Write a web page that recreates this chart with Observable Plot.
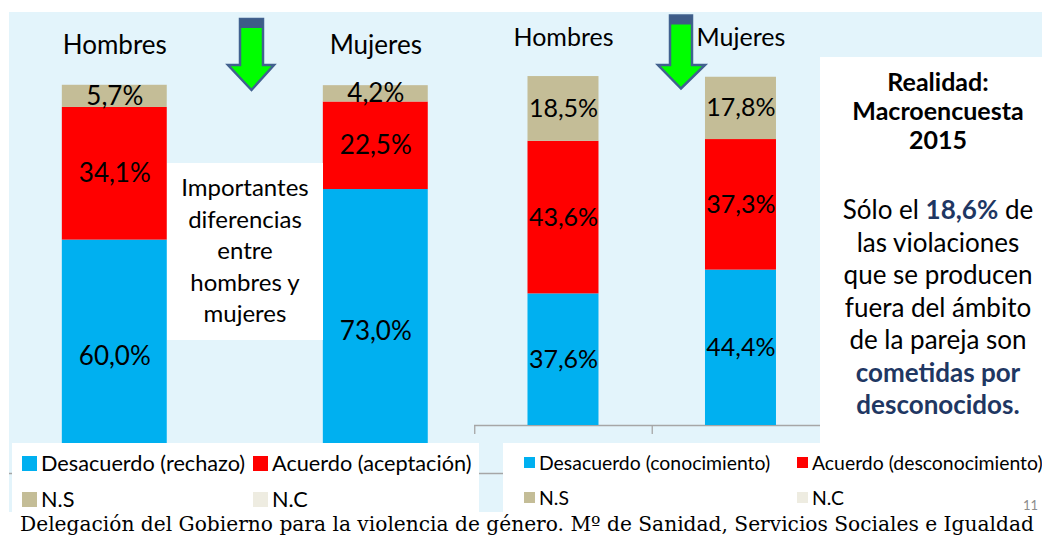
<!DOCTYPE html>
<html><head><meta charset="utf-8">
<script src="https://cdn.jsdelivr.net/npm/d3@7"></script>
<script src="https://cdn.jsdelivr.net/npm/@observablehq/plot@0.6"></script>
<style>
body{margin:0;background:#fff;}
#wrap{position:relative;width:1042px;height:537px;overflow:hidden;background:#fff;font-family:Lato,"Open Sans",sans-serif;color:#000;}
.abs{position:absolute;}
.box{position:absolute;background:#fff;}
.leg{position:absolute;display:flex;align-items:center;white-space:nowrap;}
.sw{display:inline-block;flex:none;}
</style></head><body><div id="wrap"></div>
<script>
// ---- data ----
const groups = ["Hombres", "Mujeres"];
const seriesLeft = ["Desacuerdo (rechazo)", "Acuerdo (aceptación)", "N.S", "N.C"];
const seriesRight = ["Desacuerdo (conocimiento)", "Acuerdo (desconocimiento)", "N.S", "N.C"];
const seriesColors = ["#00b0f0", "#ff0000", "#c4bd97", "#eeece1"];
const leftDesacuerdo = [60.0, 73.0];
const leftAcuerdo = [34.1, 22.5];
const leftNS = [5.7, 4.2];
const rightDesacuerdo = [37.6, 44.4];
const rightAcuerdo = [43.6, 37.3];
const rightNS = [18.5, 17.8];
const middleNote = ["Importantes", "diferencias", "entre", "hombres y", "mujeres"];
const captionText = "Delegación del Gobierno para la violencia de género. Mº de Sanidad, Servicios Sociales e Igualdad";

function rowsOf(series, cols) {
  const rows = [];
  groups.forEach((g, i) => cols.forEach((c, j) => rows.push({group: g, series: series[j], value: c[i]})));
  return rows;
}
const leftRows = rowsOf(seriesLeft, [leftDesacuerdo, leftAcuerdo, leftNS]);
const rightRows = rowsOf(seriesRight, [rightDesacuerdo, rightAcuerdo, rightNS]);
const fmt = v => v.toFixed(1).replace(".", ",") + "%";

const wrap = document.getElementById("wrap");
function add(html) { wrap.insertAdjacentHTML("beforeend", html); }

// background panel
add(`<div class="abs" style="left:9px;top:12px;width:1033px;height:500px;background:#e3f4fb"></div>`);

function chart(o) {
  const svg = Plot.plot({
    width: o.width, height: o.height,
    marginTop: o.mt, marginBottom: o.mb, marginLeft: 0, marginRight: 0,
    style: {background: "transparent", fontFamily: "Lato, sans-serif", overflow: "visible"},
    x: {domain: groups, paddingInner: o.pi, paddingOuter: o.po, align: o.align, round: false, axis: null},
    y: {domain: [0, 100], axis: null},
    color: {domain: o.series, range: seriesColors},
    marks: [
      Plot.ruleY([0], {stroke: "#a6a6a6", strokeWidth: 1.3}),
      Plot.ruleX(groups, {x: d => d, dx: o.tickDx, y1: 0, y2: -2.6, stroke: "#a6a6a6", strokeWidth: 1.3}),
      Plot.barY(o.rows, {x: "group", y: "value", fill: "series"}),
      Plot.text(o.rows, Plot.stackY({x: "group", y: "value", z: "series", text: d => fmt(d.value), fontSize: o.fs, fill: "#000"})),
      Plot.text(groups, {x: d => d, frameAnchor: "top", lineAnchor: "middle", dy: o.labelDy, fontSize: o.lfs, fill: "#000"})
    ]
  });
  svg.style.position = "absolute";
  svg.style.left = o.left + "px";
  svg.style.top = "0px";
  wrap.appendChild(svg);
}

chart({rows: leftRows, series: seriesLeft, left: 9, width: 498, height: 490, mt: 84, mb: 17,
  pi: 0.598, po: 0.253, align: 0.4, tickDx: 130.5, labelDy: -39, fs: 26, lfs: 26});
chart({rows: rightRows, series: seriesRight, left: 474, width: 347, height: 440, mt: 75, mb: 15,
  pi: 0.6, po: 0.2775, align: 0.543, tickDx: -88.75, labelDy: -38, fs: 25, lfs: 25});

// middle note box
add(`<div class="box" style="left:167px;top:163px;width:156px;height:177px;"></div>`);
add(`<div class="abs" style="left:167px;top:171px;width:156px;text-align:center;font-size:24px;line-height:31.5px;">${middleNote.join("<br>")}</div>`);

// right text box
add(`<div class="box" style="left:820px;top:57px;width:222px;height:386px;"></div>`);
add(`<div class="abs" style="left:829px;top:67px;width:218px;text-align:center;">
<div style="font-weight:bold;font-size:25px;line-height:29px;">Realidad:<br>Macroencuesta<br>2015</div>
<div style="margin-top:39px;font-size:26px;line-height:32.5px;">Sólo el <b style="color:#1f3763">18,6%</b> de<br>las violaciones<br>que se producen<br>fuera del ámbito<br>de la pareja son<br><b style="color:#1f3763">cometidas por<br>desconocidos.</b></div>
</div>`);

// legends
add(`<div class="box" style="left:12px;top:443px;width:467px;height:69px;"></div>`);
add(`<div class="box" style="left:503px;top:443px;width:539px;height:69px;"></div>`);
function legend(series, xs, ys, sw, fs, gap) {
  series.forEach((s, i) => {
    const x = xs[i % 2], y = ys[Math.floor(i / 2)];
    add(`<div class="leg" style="left:${x}px;top:${y - 15}px;height:30px;font-size:${fs}px;"><span class="sw" style="width:${sw}px;height:${sw}px;background:${seriesColors[i]};margin-right:${gap}px"></span>${s}</div>`);
  });
}
legend(seriesLeft, [22, 253], [463, 499], 15, 21.7, 4);
legend(seriesRight, [524, 797], [462, 497], 11, 19.4, 4);

// arrows
add(`<svg class="abs" style="left:0;top:0" width="1042" height="537">
<polygon points="240,19 263,19 263,65 274,65 251.5,90 228,65 240,65" fill="#00ff00" stroke="#41618f" stroke-width="2.5" stroke-linejoin="miter"/>
<rect x="240" y="19" width="23" height="9" fill="#3e5c87"/>
<polygon points="670,15.5 692,15.5 692,65 705,65 681,88.5 658,65 670,65" fill="#00ff00" stroke="#41618f" stroke-width="2.5" stroke-linejoin="miter"/>
<rect x="670" y="15.5" width="22" height="9" fill="#3e5c87"/>
</svg>`);

// caption and page number
add(`<div class="abs" style="left:1023px;top:497px;font-size:13px;color:#8c8c8c;">11</div>`);
add(`<div class="abs" style="left:20px;top:512px;font-family:'DejaVu Serif',serif;font-size:20.2px;line-height:24px;white-space:nowrap;">${captionText}</div>`);
</script></body></html>
